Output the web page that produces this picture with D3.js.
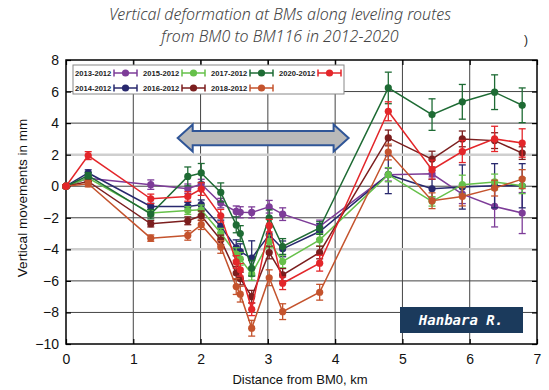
<!DOCTYPE html>
<html><head><meta charset="utf-8">
<script src="https://cdn.jsdelivr.net/npm/d3@7"></script>
<style>body{margin:0;background:#fff}svg{display:block}</style>
</head><body>
<script>
const distances = [0, 0.33, 1.26, 1.81, 2.01, 2.30, 2.53, 2.59, 2.76, 3.02, 3.22, 3.77, 4.79, 5.44, 5.89, 6.37, 6.78];
const seriesNames = ["2013-2012","2014-2012","2015-2012","2016-2012","2017-2012","2018-2012","2020-2012"];
const v2013 = [0, 0.5, 0.1, -0.16, 0.14, -1.07, -1.6, -1.65, -1.66, -1.3, -1.77, -2.55, 0.73, 0.79, -0.5, -1.28, -1.7];
const v2014 = [0, 0.84, -1.28, -1.28, -1.17, -2.55, -3.9, -4.15, -4.56, -3.08, -3.97, -2.87, 0.73, -0.16, -0.05, 0.03, 0.03];
const v2015 = [0, 0.52, -1.7, -1.54, -1.49, -2.97, -4.3, -4.6, -5.56, -3.5, -4.77, -3.4, 0.73, -0.96, 0.1, 0.27, 0.03];
const v2016 = [0, 0.3, -2.38, -2.19, -1.87, -3.4, -5.5, -5.85, -7.0, -4.2, -5.62, -4.2, 3.06, 1.72, 3.0, 2.89, 2.1];
const v2017 = [0, 0.67, -1.77, 0.62, 0.84, -0.39, -2.45, -3.0, -5.2, -2.0, -3.82, -2.65, 6.23, 4.54, 5.35, 5.96, 5.13];
const v2018 = [0, 0.16, -3.29, -3.12, -2.44, -3.85, -6.36, -6.84, -9.0, -5.8, -7.95, -6.72, 2.17, -0.92, -0.65, -0.12, 0.45];
const v2020 = [0, 1.94, -0.8, -0.65, -0.18, -1.87, -4.8, -5.3, -7.8, -2.5, -6.15, -4.88, 4.75, 1.05, 2.2, 3.0, 2.74];
const e2013 = [0.1, 0.2, 0.3, 0.3, 0.3, 0.3, 0.35, 0.35, 0.35, 0.4, 0.4, 0.4, 0.4, 0.2, 0.6, 1.3, 1.3];
const e2014 = [0.1, 0.2, 0.2, 0.25, 0.3, 0.4, 0.5, 0.5, 1.1, 0.5, 0.5, 0.5, 1.2, 0.6, 1.4, 1.4, 1.4];
const e2015 = [0.1, 0.2, 0.2, 0.25, 0.3, 0.3, 0.4, 0.4, 0.4, 0.4, 0.4, 0.4, 0.45, 0.3, 0.6, 0.5, 0.5];
const e2016 = [0.1, 0.2, 0.2, 0.25, 0.3, 0.3, 0.4, 0.4, 0.4, 0.4, 0.4, 0.4, 0.5, 0.5, 0.5, 0.5, 0.4];
const e2017 = [0.1, 0.2, 0.3, 0.6, 0.6, 0.6, 0.5, 0.5, 0.5, 0.5, 0.5, 0.4, 1.0, 1.0, 1.1, 1.1, 1.1];
const e2018 = [0.1, 0.2, 0.2, 0.3, 0.3, 0.4, 0.5, 0.5, 0.5, 0.5, 0.5, 0.5, 0.5, 0.5, 0.6, 0.5, 0.6];
const e2020 = [0.1, 0.25, 0.3, 0.3, 0.4, 0.4, 0.4, 0.4, 0.4, 0.4, 0.4, 0.5, 0.6, 0.6, 0.7, 0.8, 0.9];
const seriesColors = ["#7d3c98","#28286e","#66c04a","#7b1e1e","#1e6b34","#c4532d","#e3262a"];
const xTicks = [0,1,2,3,4,5,6,7];
const yTicks = [-10,-8,-6,-4,-2,0,2,4,6,8];
const lightGrid = [2,-4];
const titleLines = ["Vertical deformation at BMs along leveling routes","from BM0 to BM116 in 2012-2020"];

const values = [v2013,v2014,v2015,v2016,v2017,v2018,v2020];
const errors = [e2013,e2014,e2015,e2016,e2017,e2018,e2020];
const series = seriesNames.map((n,i)=>({name:n,color:seriesColors[i],
  pts:distances.map((d,j)=>({x:d,y:values[i][j],e:errors[i][j]}))}));

const W=549,H=390;
const svg=d3.select("body").append("svg").attr("width",W).attr("height",H);
const x=d3.scaleLinear().domain([0,7]).range([66,537]);
const y=d3.scaleLinear().domain([-10,8]).range([344,60]);
const font="'Liberation Sans', Arial, sans-serif";

// title
svg.append("g").selectAll("text").data(titleLines).join("text")
  .attr("x",280).attr("y",(d,i)=>20+i*22).attr("text-anchor","middle")
  .attr("font-family","'Noto Sans', sans-serif").attr("font-style","italic").attr("font-weight",300)
  .attr("font-size",16).attr("fill","#444").text(d=>d);
svg.append("text").attr("x",524).attr("y",44).attr("font-family",font).attr("font-size",12).attr("fill","#222").text(")");

// grid
const grid=svg.append("g");
grid.selectAll("line.v").data(xTicks.slice(1,-1)).join("line")
  .attr("x1",d=>x(d)).attr("x2",d=>x(d)).attr("y1",y(8)).attr("y2",y(-10))
  .attr("stroke","#444").attr("stroke-width",1);
grid.selectAll("line.h").data(yTicks.slice(1,-1)).join("line")
  .attr("x1",x(0)).attr("x2",x(7)).attr("y1",d=>y(d)).attr("y2",d=>y(d))
  .attr("stroke",d=>lightGrid.includes(d)?"#cfcfcf":"#444")
  .attr("stroke-width",d=>lightGrid.includes(d)?2.5:1);

// axes
const gx=svg.append("g").attr("transform",`translate(0,${y(-10)})`)
  .call(d3.axisBottom(x).tickValues(xTicks).tickSize(-5).tickPadding(10).tickFormat(d3.format("d")));
const gxt=svg.append("g").attr("transform",`translate(0,${y(8)})`)
  .call(d3.axisTop(x).tickValues(xTicks).tickSize(-5).tickFormat(""));
const gy=svg.append("g").attr("transform",`translate(${x(0)},0)`)
  .call(d3.axisLeft(y).tickValues(yTicks).tickSize(-5).tickPadding(7).tickFormat(d3.format("d")));
const gyr=svg.append("g").attr("transform",`translate(${x(7)},0)`)
  .call(d3.axisRight(y).tickValues(yTicks).tickSize(-5).tickFormat(""));
[gx,gxt,gy,gyr].forEach(g=>{
  g.select(".domain").remove();
  g.selectAll("line").attr("stroke","#000").attr("stroke-width",1.2);
  g.selectAll("text").attr("font-family",font).attr("font-size",14).attr("fill","#111");
});
svg.append("rect").attr("x",x(0)).attr("y",y(8)).attr("width",x(7)-x(0)).attr("height",y(-10)-y(8))
  .attr("fill","none").attr("stroke","#000").attr("stroke-width",1.5);

// axis titles
svg.append("text").attr("x",300).attr("y",384).attr("text-anchor","middle")
  .attr("font-family",font).attr("font-size",13).attr("fill","#111").text("Distance from BM0, km");
svg.append("text").attr("transform","translate(27,198) rotate(-90)").attr("text-anchor","middle")
  .attr("font-family",font).attr("font-size",13.5).attr("fill","#111").text("Vertical movements in mm");

// arrow
const ax0=x(1.66), ax1=x(4.2), ay=y(3.05);
const hw=15, hh=13.5, sh=7.2;
const arrowPts=[[ax0,ay],[ax0+hw,ay-hh],[ax0+hw,ay-sh],[ax1-hw,ay-sh],[ax1-hw,ay-hh],[ax1,ay],
  [ax1-hw,ay+hh],[ax1-hw,ay+sh],[ax0+hw,ay+sh],[ax0+hw,ay+hh]];
svg.append("polygon").attr("points",arrowPts.map(p=>p.join(",")).join(" "))
  .attr("fill","#b9b9b9").attr("stroke","#2f5597").attr("stroke-width",2).attr("stroke-linejoin","miter");

// series
const line=d3.line().x(d=>x(d.x)).y(d=>y(d.y));
series.forEach(s=>{
  const g=svg.append("g");
  g.append("path").attr("d",line(s.pts)).attr("fill","none").attr("stroke",s.color).attr("stroke-width",1.5);
  const eb=g.selectAll("g.eb").data(s.pts).join("g");
  eb.append("line").attr("x1",d=>x(d.x)).attr("x2",d=>x(d.x)).attr("y1",d=>y(d.y+d.e)).attr("y2",d=>y(d.y-d.e))
    .attr("stroke",s.color).attr("stroke-width",1.3);
  eb.append("line").attr("x1",d=>x(d.x)-3.5).attr("x2",d=>x(d.x)+3.5).attr("y1",d=>y(d.y+d.e)).attr("y2",d=>y(d.y+d.e))
    .attr("stroke",s.color).attr("stroke-width",1.3);
  eb.append("line").attr("x1",d=>x(d.x)-3.5).attr("x2",d=>x(d.x)+3.5).attr("y1",d=>y(d.y-d.e)).attr("y2",d=>y(d.y-d.e))
    .attr("stroke",s.color).attr("stroke-width",1.3);
  g.selectAll("circle").data(s.pts).join("circle").attr("cx",d=>x(d.x)).attr("cy",d=>y(d.y)).attr("r",3.6)
    .attr("fill",s.color);
});

// legend
const lg=svg.append("g");
lg.append("rect").attr("x",73).attr("y",65).attr("width",271).attr("height",29)
  .attr("fill","#fff").attr("stroke","#888").attr("stroke-width",1);
const legendOrder=[0,2,4,6,1,3,5];
legendOrder.forEach((si,k)=>{
  const col=k<4?k:k-4, row=k<4?0:1;
  const tx=75+col*68, ty=76+row*15;
  const s=series[si];
  lg.append("text").attr("x",tx).attr("y",ty).attr("font-family",font).attr("font-size",7.6)
    .attr("font-weight","bold").attr("fill","#222").text(s.name);
  const sx0=tx+39, sx1=tx+62, sy=ty-3;
  lg.append("line").attr("x1",sx0).attr("x2",sx1).attr("y1",sy).attr("y2",sy).attr("stroke",s.color).attr("stroke-width",1.5);
  [sx0,sx1].forEach(xx=>lg.append("line").attr("x1",xx).attr("x2",xx).attr("y1",sy-3.5).attr("y2",sy+3.5)
    .attr("stroke",s.color).attr("stroke-width",1.5));
  lg.append("circle").attr("cx",(sx0+sx1)/2).attr("cy",sy).attr("r",3.6).attr("fill",s.color);
});

// name box
svg.append("rect").attr("x",400).attr("y",307).attr("width",123).attr("height",26).attr("fill","#1b3a5c");
svg.append("text").attr("x",461).attr("y",325).attr("text-anchor","middle")
  .attr("font-family","'DejaVu Sans Mono', monospace").attr("font-style","italic").attr("font-weight","bold").attr("font-size",14)
  .attr("fill","#fff").text("Hanbara R.");
</script>
</body></html>
